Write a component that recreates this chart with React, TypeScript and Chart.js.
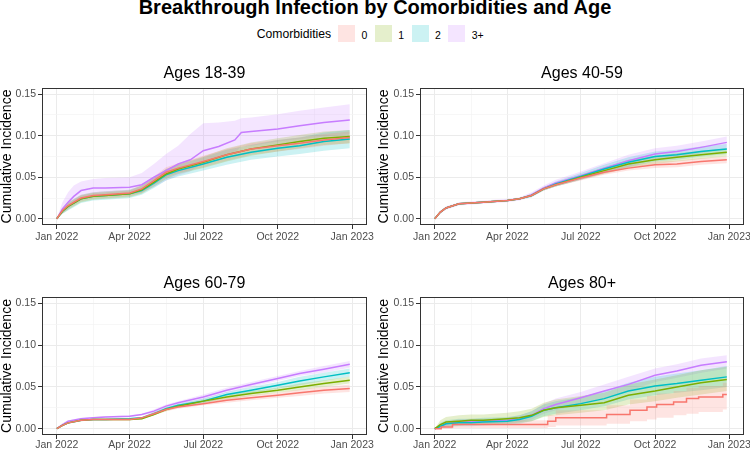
import React, { useEffect, useRef } from 'react';
import { Chart, registerables } from 'chart.js';

Chart.register(...registerables);

const FONT = "'Liberation Sans', Arial, Helvetica, sans-serif";

const TITLE = 'Breakthrough Infection by Comorbidities and Age';
const LEGEND_TITLE = 'Comorbidities';
const GROUPS = ['0', '1', '2', '3+'];
const COLORS = ['#F8766D', '#7CAE00', '#00BFC4', '#C77CFF'];
const BAND_COLORS = ['rgba(248,118,109,0.2)', 'rgba(124,174,0,0.2)', 'rgba(0,191,196,0.2)', 'rgba(199,124,255,0.2)'];
const PANEL_TITLES = ['Ages 18-39', 'Ages 40-59', 'Ages 60-79', 'Ages 80+'];
const Y_TITLE = 'Cumulative Incidence';

const X_TICKS = [0, 90, 181, 273, 365];
const X_TICK_LABELS = ['Jan 2022', 'Apr 2022', 'Jul 2022', 'Oct 2022', 'Jan 2023'];
const X_MINOR = [45, 135.5, 227, 319];
const Y_TICKS = [0, 0.05, 0.1, 0.15];
const Y_TICK_LABELS = ['0.00', '0.05', '0.10', '0.15'];
const Y_MINOR = [0.025, 0.075, 0.125];

// days since Jan 1 2022
const DAYS = [0, 7, 14, 30, 45, 60, 90, 105, 120, 135, 150, 181, 210, 240, 273, 300, 330, 362];
const PURPLE18_DAYS = [0, 7, 14, 21, 30, 45, 60, 90, 105, 120, 135, 150, 165, 181, 200, 220, 228, 240, 273, 300, 330, 362];
const RED80_DAYS = [0, 8, 22, 140, 150, 213, 242, 263, 275, 296, 312, 327, 357, 362];

// Ages 18-39 (last row uses PURPLE18_DAYS)
const P1_EST = [
  [0, .010, .016, .025, .028, .029, .031, .036, .046, .056, .061, .069, .077, .084, .088, .091, .095, .098],
  [0, .009, .015, .024, .027, .028, .030, .035, .044, .054, .060, .068, .077, .084, .089, .093, .097, .099],
  [0, .009, .015, .024, .027, .028, .030, .034, .043, .053, .058, .066, .074, .080, .085, .088, .093, .096],
  [0, .012, .020, .027, .034, .037, .037, .038, .041, .050, .058, .066, .071, .082, .087, .095, .104, .105, .108, .112, .116, .119],
];
const P1_LO = [
  [0, .007, .012, .021, .024, .025, .027, .031, .041, .050, .055, .062, .070, .077, .081, .084, .088, .091],
  [0, .006, .011, .020, .023, .024, .026, .030, .039, .048, .054, .061, .069, .076, .081, .085, .089, .091],
  [0, .006, .010, .019, .022, .023, .025, .029, .037, .046, .051, .058, .065, .071, .075, .078, .082, .085],
  [0, .006, .012, .018, .024, .028, .029, .029, .032, .038, .046, .052, .057, .068, .073, .080, .087, .088, .093, .096, .099, .102],
];
const P1_HI = [
  [0, .013, .020, .029, .032, .033, .035, .041, .051, .062, .067, .076, .084, .091, .095, .098, .102, .105],
  [0, .012, .019, .028, .031, .032, .034, .040, .049, .060, .066, .075, .085, .092, .097, .101, .105, .107],
  [0, .012, .020, .029, .032, .033, .035, .040, .049, .060, .065, .074, .083, .089, .095, .098, .104, .107],
  [0, .020, .032, .040, .045, .048, .049, .050, .055, .066, .078, .088, .102, .115, .116, .118, .121, .122, .126, .130, .134, .138],
];

// Ages 40-59
const P2_EST = [
  [0, .008, .013, .018, .019, .020, .022, .024, .028, .036, .041, .049, .056, .061, .065, .066, .069, .071],
  [0, .008, .013, .018, .019, .020, .022, .024, .028, .036, .041, .050, .058, .066, .071, .074, .077, .080],
  [0, .008, .013, .018, .019, .020, .022, .024, .028, .036, .042, .051, .060, .068, .075, .077, .081, .084],
  [0, .008, .013, .018, .019, .020, .022, .024, .029, .037, .043, .052, .061, .070, .078, .081, .086, .092],
];
const P2_LO = [
  [0, .007, .012, .017, .018, .019, .021, .023, .027, .034, .039, .046, .053, .058, .061, .062, .065, .067],
  [0, .007, .012, .017, .018, .019, .021, .023, .027, .034, .039, .047, .054, .061, .066, .069, .072, .075],
  [0, .007, .012, .017, .018, .019, .021, .023, .026, .034, .039, .047, .055, .062, .069, .071, .075, .078],
  [0, .006, .011, .016, .017, .018, .020, .022, .026, .034, .039, .047, .055, .063, .071, .074, .079, .085],
];
const P2_HI = [
  [0, .009, .014, .019, .020, .021, .023, .025, .029, .038, .043, .052, .059, .064, .069, .070, .073, .075],
  [0, .009, .014, .019, .020, .021, .023, .025, .029, .038, .043, .053, .062, .071, .076, .079, .082, .085],
  [0, .009, .014, .019, .020, .021, .023, .025, .030, .038, .045, .055, .065, .074, .081, .083, .087, .090],
  [0, .010, .015, .020, .021, .022, .024, .026, .032, .040, .047, .057, .067, .077, .085, .088, .093, .099],
];

// Ages 60-79
const P3_EST = [
  [0, .004, .007, .010, .011, .011, .011, .013, .018, .023, .026, .030, .034, .037, .040, .043, .046, .048],
  [0, .004, .007, .010, .011, .011, .011, .012, .017, .023, .027, .033, .038, .042, .046, .050, .054, .058],
  [0, .004, .007, .010, .011, .011, .012, .013, .018, .024, .028, .033, .041, .046, .052, .057, .062, .067],
  [0, .005, .009, .012, .013, .014, .015, .017, .021, .027, .031, .038, .046, .053, .060, .066, .071, .077],
];
const P3_LO = [
  [0, .003, .006, .009, .010, .010, .010, .012, .016, .021, .024, .028, .031, .034, .037, .039, .042, .044],
  [0, .003, .006, .009, .010, .010, .010, .011, .016, .021, .025, .031, .035, .039, .043, .046, .050, .054],
  [0, .003, .006, .009, .010, .010, .011, .012, .016, .022, .026, .030, .038, .042, .048, .052, .057, .062],
  [0, .004, .008, .011, .012, .013, .014, .016, .019, .025, .029, .035, .043, .050, .057, .063, .067, .073],
];
const P3_HI = [
  [0, .005, .008, .011, .012, .012, .012, .014, .020, .025, .028, .032, .037, .040, .043, .047, .050, .053],
  [0, .005, .008, .011, .012, .012, .012, .013, .018, .025, .029, .035, .041, .045, .049, .054, .058, .062],
  [0, .005, .008, .011, .012, .012, .013, .014, .020, .026, .030, .036, .044, .050, .056, .062, .067, .072],
  [0, .006, .010, .013, .014, .015, .016, .018, .023, .029, .033, .041, .049, .056, .063, .069, .075, .081],
];

// Ages 80+ (first row uses RED80_DAYS)
const P4_EST = [
  [0, .002, .005, .009, .013, .017, .022, .026, .029, .032, .036, .038, .041, .041],
  [0, .005, .008, .009, .010, .010, .012, .013, .016, .022, .025, .028, .031, .040, .045, .050, .055, .059],
  [0, .003, .006, .007, .007, .008, .009, .011, .015, .022, .025, .030, .036, .045, .051, .054, .058, .062],
  [0, .003, .006, .008, .009, .009, .010, .012, .016, .024, .029, .037, .045, .053, .064, .069, .076, .080],
];
const P4_LO = [
  [0, 0, .001, .002, .004, .006, .009, .011, .013, .016, .018, .020, .023, .024],
  [0, .001, .003, .004, .005, .005, .006, .007, .009, .014, .016, .019, .022, .029, .033, .037, .041, .045],
  [0, .001, .002, .003, .003, .004, .005, .006, .009, .015, .018, .022, .027, .035, .040, .043, .046, .050],
  [0, .001, .003, .005, .006, .006, .007, .008, .011, .018, .022, .030, .037, .045, .056, .061, .067, .072],
];
const P4_HI = [
  [0, .005, .010, .016, .022, .028, .035, .039, .042, .045, .049, .051, .055, .055],
  [0, .010, .014, .016, .017, .017, .019, .021, .024, .031, .035, .039, .043, .053, .059, .064, .070, .074],
  [0, .007, .010, .012, .012, .013, .014, .016, .021, .029, .033, .038, .045, .055, .062, .066, .070, .075],
  [0, .006, .009, .011, .012, .012, .013, .016, .021, .030, .036, .044, .053, .062, .072, .077, .084, .088],
];

type PanelData = {
  title: string;
  est: number[][];
  lo: number[][];
  hi: number[][];
  days: number[][];
  stepped: boolean[];
};

const PANELS: PanelData[] = [
  { title: PANEL_TITLES[0], est: P1_EST, lo: P1_LO, hi: P1_HI, days: [DAYS, DAYS, DAYS, PURPLE18_DAYS], stepped: [false, false, false, false] },
  { title: PANEL_TITLES[1], est: P2_EST, lo: P2_LO, hi: P2_HI, days: [DAYS, DAYS, DAYS, DAYS], stepped: [false, false, false, false] },
  { title: PANEL_TITLES[2], est: P3_EST, lo: P3_LO, hi: P3_HI, days: [DAYS, DAYS, DAYS, DAYS], stepped: [false, false, false, false] },
  { title: PANEL_TITLES[3], est: P4_EST, lo: P4_LO, hi: P4_HI, days: [RED80_DAYS, DAYS, DAYS, DAYS], stepped: [true, false, false, false] },
];

type Box = {
  left: number; top: number; width: number; height: number;
  padTop: number; padRight: number; yWidth: number; xHeight: number;
  xPad: number; titlePad: number; titleY: number;
};

const BOXES: Box[] = [
  { left: 0, top: 60, width: 375, height: 195, padTop: 28, padRight: 8, yWidth: 42, xHeight: 30, xPad: 1.5, titlePad: 0, titleY: 72.8 },
  { left: 375, top: 60, width: 375, height: 195, padTop: 28, padRight: 6, yWidth: 45, xHeight: 30, xPad: 1.5, titlePad: 2.5, titleY: 72.8 },
  { left: 0, top: 260, width: 375, height: 193, padTop: 37, padRight: 8, yWidth: 42, xHeight: 18, xPad: 0, titlePad: 0, titleY: 283 },
  { left: 375, top: 260, width: 375, height: 193, padTop: 37, padRight: 6, yWidth: 45, xHeight: 18, xPad: 0, titlePad: 2.5, titleY: 283 },
];

const near = (arr: number[], v: number) => arr.some((a) => Math.abs(a - v) < 1e-6);

const boxPlugin = {
  id: 'panelBorder',
  afterDraw(chart: any) {
    const { ctx, chartArea } = chart;
    const { left, top, right, bottom } = chartArea;
    ctx.save();
    ctx.strokeStyle = '#333333';
    ctx.lineWidth = 1;
    ctx.strokeRect(Math.round(left) + 0.5, Math.round(top) + 0.5, Math.round(right - left) - 1, Math.round(bottom - top) - 1);
    ctx.restore();
  },
};

function Panel({ data, box }: { data: PanelData; box: Box }) {
  const ref = useRef<HTMLCanvasElement | null>(null);
  useEffect(() => {
    if (!ref.current) return;
    const datasets: any[] = [];
    GROUPS.forEach((g, i) => {
      const days = data.days[i];
      datasets.push({
        label: g + ' upper',
        data: days.map((d, k) => ({ x: d, y: data.hi[i][k] })),
        borderWidth: 0,
        borderColor: 'rgba(0,0,0,0)',
        backgroundColor: BAND_COLORS[i],
        pointRadius: 0,
        fill: '+1',
        stepped: data.stepped[i],
        order: 1,
      });
      datasets.push({
        label: g + ' lower',
        data: days.map((d, k) => ({ x: d, y: data.lo[i][k] })),
        borderWidth: 0,
        borderColor: 'rgba(0,0,0,0)',
        pointRadius: 0,
        fill: false,
        stepped: data.stepped[i],
        order: 1,
      });
    });
    GROUPS.forEach((g, i) => {
      const days = data.days[i];
      datasets.push({
        label: g,
        data: days.map((d, k) => ({ x: d, y: data.est[i][k] })),
        borderWidth: 1.5,
        borderColor: COLORS[i],
        pointRadius: 0,
        fill: false,
        stepped: data.stepped[i],
        order: 0,
      });
    });

    const chart = new Chart(ref.current, {
      type: 'line',
      data: { datasets },
      options: {
        responsive: false,
        maintainAspectRatio: false,
        animation: false,
        devicePixelRatio: 1,
        layout: { padding: { top: box.padTop, right: box.padRight, bottom: 0, left: 0 } },
        plugins: { legend: { display: false }, tooltip: { enabled: false }, title: { display: false } },
        scales: {
          x: {
            type: 'linear',
            min: -18.25,
            max: 383.25,
            afterBuildTicks: (s: any) => {
              s.ticks = [...X_TICKS, ...X_MINOR].map((v) => ({ value: v }));
            },
            afterFit: (s: any) => { s.height = box.xHeight; },
            ticks: {
              autoSkip: false,
              maxRotation: 0,
              padding: box.xPad,
              color: '#4D4D4D',
              font: { family: FONT, size: 10.5 },
              callback: (v: any) => {
                const idx = X_TICKS.findIndex((t) => Math.abs(t - v) < 1e-6);
                return idx >= 0 ? X_TICK_LABELS[idx] : '';
              },
            },
            grid: {
              color: (c: any) => (near(X_TICKS, c.tick?.value) ? '#EBEBEB' : '#F4F4F4'),
              lineWidth: (c: any) => (near(X_TICKS, c.tick?.value) ? 1 : 0.7),
              tickColor: (c: any) => (near(X_TICKS, c.tick?.value) ? '#333333' : 'rgba(0,0,0,0)'),
              tickWidth: 1,
              tickLength: 4,
            },
            border: { display: false },
          },
          y: {
            type: 'linear',
            min: -0.0075,
            max: 0.1575,
            afterBuildTicks: (s: any) => {
              s.ticks = [...Y_TICKS, ...Y_MINOR].map((v) => ({ value: v }));
            },
            afterFit: (s: any) => { s.width = box.yWidth; },
            ticks: {
              autoSkip: false,
              padding: 2,
              color: '#4D4D4D',
              font: { family: FONT, size: 10.5 },
              callback: (v: any) => {
                const idx = Y_TICKS.findIndex((t) => Math.abs(t - v) < 1e-6);
                return idx >= 0 ? Y_TICK_LABELS[idx] : '';
              },
            },
            grid: {
              color: (c: any) => (near(Y_TICKS, c.tick?.value) ? '#EBEBEB' : '#F4F4F4'),
              lineWidth: (c: any) => (near(Y_TICKS, c.tick?.value) ? 1 : 0.7),
              tickColor: (c: any) => (near(Y_TICKS, c.tick?.value) ? '#333333' : 'rgba(0,0,0,0)'),
              tickWidth: 1,
              tickLength: 4,
            },
            border: { display: false },
            title: {
              display: true,
              text: Y_TITLE,
              color: '#000000',
              font: { family: FONT, size: 14, lineHeight: 1 },
              padding: { top: box.titlePad, bottom: 0 },
            },
          },
        },
      } as any,
      plugins: [boxPlugin],
    });
    return () => chart.destroy();
  }, [data, box]);

  const plotLeft = box.left + box.yWidth;
  const plotRight = box.left + box.width - box.padRight;
  const cx = (plotLeft + plotRight) / 2;
  return (
    <>
      <canvas
        ref={ref}
        width={box.width}
        height={box.height}
        style={{ position: 'absolute', left: box.left, top: box.top, width: box.width, height: box.height }}
      />
      <div
        style={{
          position: 'absolute', left: cx - 100, width: 200, top: box.titleY - 8, height: 16,
          textAlign: 'center', fontSize: 16, lineHeight: '16px', color: '#000', whiteSpace: 'nowrap',
        }}
      >
        {data.title}
      </div>
    </>
  );
}

export default function App() {
  return (
    <div
      style={{
        position: 'absolute', left: 0, top: 0, width: 750, height: 453, overflow: 'hidden',
        background: '#FFFFFF', fontFamily: FONT, color: '#000',
      }}
    >
      <div
        style={{
          position: 'absolute', left: 0, top: -3, width: 750, textAlign: 'center',
          fontSize: 20, lineHeight: '20px', fontWeight: 'bold', whiteSpace: 'nowrap',
        }}
      >
        {TITLE}
      </div>
      <div style={{ position: 'absolute', left: 256.7, top: 28.4, fontSize: 12.2, lineHeight: '12.2px', whiteSpace: 'nowrap' }}>
        {LEGEND_TITLE}
      </div>
      {GROUPS.map((g, i) => (
        <React.Fragment key={g}>
          <div
            style={{
              position: 'absolute', left: 338.3 + 36.7 * i, top: 24.5, width: 17, height: 17,
              background: BAND_COLORS[i],
            }}
          />
          <div
            style={{
              position: 'absolute', left: 361.6 + 36.7 * i, top: 29.5, fontSize: 10.5, lineHeight: '10.5px',
              whiteSpace: 'nowrap',
            }}
          >
            {g}
          </div>
        </React.Fragment>
      ))}
      {PANELS.map((p, i) => (
        <Panel key={p.title} data={p} box={BOXES[i]} />
      ))}
    </div>
  );
}
